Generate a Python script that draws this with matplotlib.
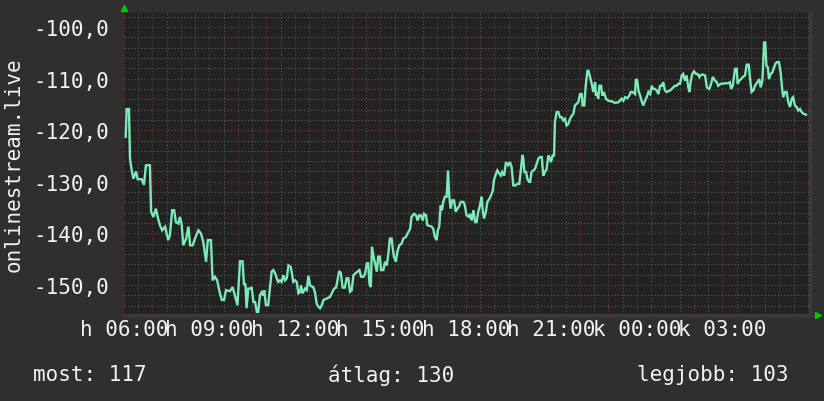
import matplotlib
matplotlib.use("Agg")
import matplotlib.pyplot as plt
from matplotlib.ticker import MultipleLocator, FuncFormatter

# ============================================
# DATA (hours since Mon 06:00, signal value)
# ============================================
t_hours = [
    0.06, 0.095, 0.175, 0.21, 0.27, 0.33, 0.42, 0.48, 0.62, 0.70, 0.77, 0.91, 0.95, 1.03, 1.12,
    1.18, 1.26, 1.34, 1.44, 1.55, 1.61, 1.69, 1.76, 1.82, 1.91, 1.96, 2.02, 2.08, 2.18, 2.26,
    2.32, 2.41, 2.49, 2.61, 2.70, 2.78, 2.88, 2.94, 3.05, 3.11, 3.19, 3.27, 3.34, 3.43, 3.51,
    3.58, 3.72, 3.81, 3.89, 3.95,
    3.98, 4.01, 4.07, 4.16, 4.21, 4.26, 4.30, 4.36, 4.44, 4.48, 4.54, 4.60, 4.66, 4.71, 4.77,
    4.83, 4.89, 4.92, 4.98, 5.06, 5.12, 5.18, 5.24, 5.30, 5.36, 5.41, 5.47, 5.53, 5.59, 5.65,
    5.71, 5.77, 5.85, 5.88, 5.94, 6.00, 6.06, 6.12, 6.18, 6.21, 6.27, 6.35, 6.41, 6.47, 6.53,
    6.64, 6.70, 6.76, 6.82, 6.88, 6.94, 7.00, 7.12, 7.23, 7.29, 7.37, 7.44, 7.48, 7.55, 7.61,
    7.67, 7.75, 7.81, 7.87,
    7.93, 7.99, 8.05, 8.11, 8.19, 8.26, 8.32, 8.40, 8.46, 8.52, 8.57, 8.61, 8.66, 8.70, 8.77,
    8.81, 8.87, 8.92, 8.98, 9.02, 9.10, 9.16, 9.22, 9.27, 9.33, 9.39, 9.43, 9.47, 9.54, 9.59,
    9.66, 9.74, 9.80, 9.89, 9.98, 10.04, 10.09, 10.18, 10.25, 10.30, 10.36, 10.42, 10.48, 10.53,
    10.60, 10.64, 10.74, 10.80, 10.85, 10.91, 10.97, 11.01, 11.06, 11.11, 11.16, 11.20, 11.26,
    11.32, 11.37, 11.41, 11.46, 11.52, 11.58, 11.64, 11.70, 11.77, 11.82, 11.91, 11.96, 12.02,
    12.11,
    12.14, 12.20, 12.26, 12.32, 12.37, 12.43, 12.49, 12.55, 12.58, 12.63, 12.70, 12.75, 12.82,
    12.88, 12.94, 12.98, 13.03, 13.10, 13.17, 13.22, 13.27, 13.34, 13.40, 13.48, 13.54, 13.60,
    13.66, 13.74, 13.80, 13.87, 13.93, 13.98, 14.01, 14.05, 14.11, 14.15, 14.21, 14.25, 14.30,
    14.36, 14.42, 14.48, 14.54, 14.60, 14.66, 14.71, 14.77, 14.83, 14.89, 14.95, 14.98, 15.04,
    15.09, 15.12, 15.18, 15.24, 15.30, 15.36, 15.41, 15.47, 15.53, 15.59, 15.65, 15.71, 15.77,
    15.82, 15.88, 15.94, 16.00, 16.06, 16.09, 16.15, 16.20, 16.26, 16.30,
    16.41, 16.47, 16.53, 16.56, 16.61, 16.64, 16.68, 16.74, 16.78, 16.84, 16.91, 16.99, 17.11,
    17.23, 17.34, 17.40, 17.46, 17.52, 17.58, 17.66, 17.73, 17.78, 17.85, 17.93, 17.96, 18.01,
    18.05, 18.11, 18.16, 18.22, 18.28, 18.34, 18.40, 18.46, 18.52, 18.57, 18.63, 18.69, 18.75,
    18.81, 18.87, 18.92, 18.98, 19.04, 19.16, 19.22, 19.27, 19.33, 19.39, 19.45, 19.51, 19.57,
    19.62, 19.68, 19.74, 19.80, 19.84, 19.88, 19.94, 20.00, 20.07, 20.12, 20.19,
    20.21, 20.30, 20.39, 20.45, 20.53, 20.58, 20.66, 20.74, 20.80, 20.85, 20.94, 21.00, 21.09,
    21.20, 21.26, 21.30, 21.36, 21.40, 21.44, 21.50, 21.53, 21.59, 21.65, 21.71, 21.79, 21.85,
    21.92, 21.96, 22.02, 22.08, 22.14, 22.22, 22.29, 22.34, 22.40, 22.46, 22.50, 22.54, 22.59,
    22.63, 22.69, 22.75, 22.81, 22.87, 22.92, 22.98, 23.04, 23.10, 23.13, 23.19, 23.25, 23.31,
    23.37, 23.43, 23.48, 23.54, 23.60, 23.66, 23.72, 23.78, 23.84, 23.93,
]

signal = [
    -121.3, -115.9, -115.9, -125.5, -127.8, -129.4, -128.0, -129.5, -129.5, -130.6, -126.8, -126.8,
    -135.8, -136.8, -135.2, -136.8, -138.4, -139.4, -138.7, -141.3, -140.4, -135.5, -135.5, -137.8,
    -138.1, -136.8, -138.1, -142.3, -141.0, -138.7, -142.3, -142.3, -141.0, -139.4, -140.0, -141.6,
    -145.5, -141.3, -141.3, -149.1, -148.4, -149.1, -151.0, -152.9, -152.9, -151.0, -151.2, -150.4,
    -152.0, -153.3,
    -153.9, -151.0, -145.4, -145.4, -150.0, -149.7, -154.5, -150.7, -150.7, -150.4, -153.3, -153.3,
    -155.2, -155.2, -152.0, -151.4, -152.0, -151.0, -153.9, -153.9, -150.7, -147.4, -147.1, -147.7,
    -148.7, -149.4, -149.1, -149.4, -148.1, -149.1, -148.7, -146.2, -146.5, -147.4, -149.4, -149.1,
    -149.4, -151.6, -151.4, -150.1, -151.6, -150.7, -151.0, -148.2, -150.1, -150.4, -151.4, -153.6,
    -154.2, -154.5, -153.9, -152.9, -152.6, -152.3, -151.6, -150.7, -150.5, -149.4, -147.3, -147.7,
    -150.5, -150.5, -148.7, -148.7,
    -151.3, -151.0, -148.1, -147.8, -147.4, -147.1, -148.4, -148.4, -147.8, -145.8, -145.8, -149.7,
    -150.4, -142.6, -144.9, -145.8, -147.4, -144.5, -144.5, -147.1, -147.1, -145.5, -146.2, -144.2,
    -141.0, -141.0, -142.9, -144.5, -145.5, -143.6, -142.3, -142.0, -141.0, -140.7, -139.7, -139.1,
    -136.8, -136.2, -136.5, -137.5, -136.5, -136.5, -137.5, -136.2, -136.5, -138.4, -138.6, -138.7,
    -139.1, -140.7, -141.3, -139.4, -138.7, -134.6, -135.5, -133.9, -132.9, -132.9, -127.8, -132.6,
    -135.2, -133.6, -133.6, -135.8, -135.2, -134.6, -133.9, -133.9, -134.6, -136.5, -136.8,
    -136.2, -137.5, -135.5, -137.8, -137.8, -135.8, -134.6, -132.9, -135.2, -137.1, -135.8, -133.9,
    -133.3, -132.6, -131.7, -129.7, -128.8, -127.8, -128.4, -128.8, -128.1, -128.8, -126.2, -126.8,
    -126.2, -127.1, -130.7, -130.7, -130.4, -130.4, -127.5, -124.8, -125.5, -128.1, -128.1, -129.4,
    -130.0, -130.0, -128.1, -127.8, -127.5, -126.5, -125.5, -125.2, -125.2, -128.8, -128.1, -127.5,
    -124.9, -125.5, -126.2, -124.9, -124.9, -118.4, -116.5, -116.5, -117.5, -117.5, -118.1, -117.8,
    -119.1, -118.8, -117.8, -117.2, -116.8, -115.2, -114.9, -114.6, -113.0, -113.0, -115.2, -115.2,
    -111.4, -108.5, -108.5,
    -111.0, -112.6, -110.7, -113.3, -113.0, -113.9, -111.4, -111.4, -113.3, -112.6, -113.9, -114.3,
    -114.4, -114.7, -114.6, -114.3, -113.9, -114.3, -113.6, -113.8, -113.3, -112.6, -112.6, -113.0,
    -110.1, -110.4, -112.3, -113.3, -114.3, -115.2, -114.3, -113.6, -112.6, -113.0, -111.4, -112.0,
    -112.0, -112.3, -113.0, -111.4, -111.4, -110.7, -112.3, -112.6, -112.3, -112.0, -111.7, -111.4,
    -111.4, -111.0, -111.0, -109.4, -109.1, -110.4, -109.4, -111.7, -112.6, -110.7, -109.1, -108.6,
    -109.1, -109.1, -109.7,
    -109.4, -109.2, -109.4, -111.7, -112.0, -111.4, -109.7, -110.4, -110.7, -111.4, -111.0, -111.0,
    -110.9, -110.9, -110.7, -112.0, -111.4, -109.7, -108.1, -108.1, -111.0, -110.4, -110.1, -109.7,
    -109.4, -107.3, -107.3, -109.7, -112.6, -112.3, -111.4, -110.7, -110.1, -111.7, -110.4, -103.0,
    -103.0, -107.5, -107.8, -110.1, -109.1, -108.8, -107.8, -107.0, -106.8, -106.8, -108.8, -112.3,
    -113.6, -112.6, -112.6, -114.6, -115.5, -113.9, -113.6, -115.2, -115.5, -116.2, -115.9, -116.5,
    -116.8, -117.0,
]

label_hours = [0, 3, 6, 9, 12, 15, 18, 21]
label_texts = ["h 06:00", "h 09:00", "h 12:00", "h 15:00", "h 18:00", "h 21:00", "k 00:00", "k 03:00"]

stat_texts = ["most: 117", "átlag: 130", "legjobb: 103"]

# ============================================
# PLOT
# ============================================
plt.rcParams["font.family"] = ["DejaVu Sans Mono"]
BACK = "#2f2f2f"
CANVAS = "#222222"
FONT_COLOR = "#f2f2f2"

fig = plt.figure(figsize=(8.24, 4.02), dpi=100, facecolor=BACK)
ax = fig.add_axes([124 / 824, 1 - 316 / 402, 686 / 824, 302 / 402])
ax.set_facecolor(CANVAS)

ax.set_xlim(0, 686 / 28.5)
ax.set_ylim(-155.81, -97.29)

# grid: gray minor, red major
ax.xaxis.set_major_locator(MultipleLocator(1))
ax.xaxis.set_minor_locator(MultipleLocator(0.5))
ax.yaxis.set_major_locator(MultipleLocator(10))
ax.yaxis.set_minor_locator(MultipleLocator(2))
ax.grid(which="minor", color="#5a5a5a", linestyle=(0, (1, 2)), linewidth=0.8)
ax.grid(which="major", color="#7a3838", linestyle=(0, (1, 2)), linewidth=0.8)
ax.set_axisbelow(True)

labels_by_hour = dict(zip(label_hours, label_texts))
ax.xaxis.set_major_formatter(FuncFormatter(lambda v, p: labels_by_hour.get(int(round(v)), "")))
ax.yaxis.set_major_formatter(FuncFormatter(lambda v, p: f"{v:.1f}".replace(".", ",")))

ax.tick_params(which="both", length=0, colors=FONT_COLOR, labelsize=15)
ax.tick_params(axis="y", pad=11)
ax.tick_params(axis="x", pad=3)

for side in ["top", "left"]:
    ax.spines[side].set_visible(False)
for side in ["bottom", "right"]:
    ax.spines[side].set_color("#3a3a3a")
    ax.spines[side].set_linewidth(2.5)

ax.plot(t_hours, signal, color="#7ceab6", linewidth=1.7, solid_joinstyle="miter")

# rrdtool style arrows
ax.plot([0], [1.017], marker="^", markersize=5, color="#00cc00", transform=ax.transAxes, clip_on=False)
ax.plot([1.011], [0], marker=">", markersize=5, color="#00cc00", transform=ax.transAxes, clip_on=False)

fig.text(14 / 824, 1 - 165 / 402, "onlinestream.live", rotation=90, ha="center", va="center",
         color=FONT_COLOR, fontsize=15)

stat_x = [33, 328, 637]
for x, s in zip(stat_x, stat_texts):
    fig.text(x / 824, 1 - 375 / 402, s, ha="left", va="center", color=FONT_COLOR, fontsize=15)

plt.savefig("out.png", dpi=100, facecolor=BACK)
